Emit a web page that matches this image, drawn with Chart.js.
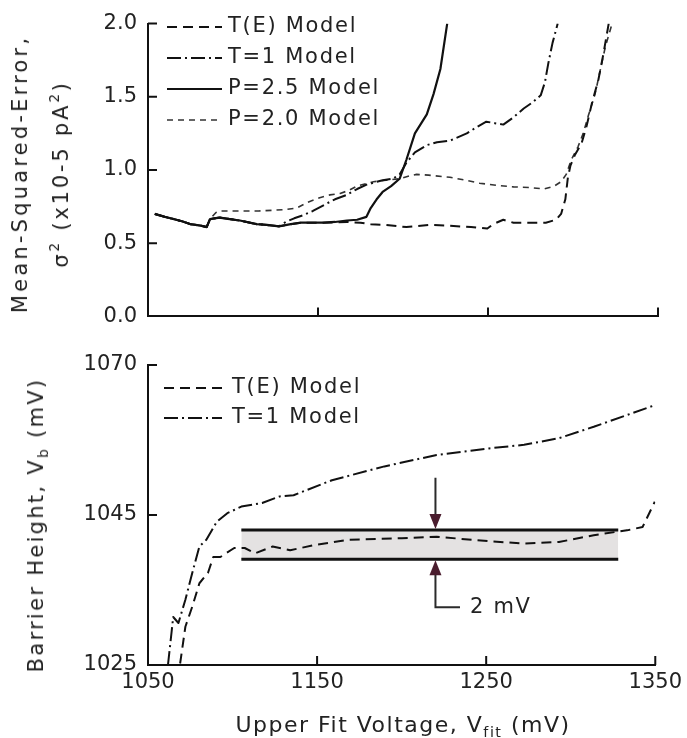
<!DOCTYPE html>
<html>
<head>
<meta charset="utf-8">
<title>Mean-squared error and barrier height vs upper fit voltage</title>
<script src="https://cdn.jsdelivr.net/npm/chart.js@4.4.0/dist/chart.umd.min.js"></script>
<style>
  html, body { margin:0; padding:0; background:#fff; }
  #wrap { position:relative; width:687px; height:738px; font-family:"DejaVu Sans", sans-serif; color:#222; }
  #wrap canvas { position:absolute; left:0; }
  #cTop { top:0; }
  #cBot { top:340px; }
  .title { position:absolute; white-space:nowrap; text-align:center; font-size:21px; }
  .rot { transform:translate(-50%,-50%) rotate(-90deg); }
  .flat { transform:translate(-50%,-50%); }
  sup { font-size:65%; vertical-align:0.65em; line-height:0; }
  sub { font-size:65%; vertical-align:-0.35em; line-height:0; }
</style>
</head>
<body>
<div id="wrap">
  <canvas id="cTop" width="687" height="340"></canvas>
  <canvas id="cBot" width="687" height="398"></canvas>
  <div class="title rot" style="left:41px; top:174px; line-height:41px;">
    <span style="letter-spacing:3.2px">Mean-Squared-Error,</span><br>
    <span style="letter-spacing:2.8px">σ<sup>2</sup> (x10-5 pA<sup>2</sup>)</span>
  </div>
  <div class="title rot" style="left:36px; top:525px; line-height:30px; letter-spacing:2.3px;">Barrier Height, V<sub>b</sub> (mV)</div>
  <div class="title flat" style="left:403px; top:725px; line-height:30px; font-size:22px; letter-spacing:1.5px;">Upper Fit Voltage, V<sub>fit</sub> (mV)</div>
</div>
<script>
const X_MIN = 1050, X_MAX = 1350;
const X_TICKS = [1050, 1150, 1250, 1350];
const MSE_TICKS = [0, 0.5, 1.0, 1.5, 2.0];
const VB_TICKS = [1025, 1045, 1070];

// top panel: sigma^2 (x10-5 pA^2) vs Vfit (mV)
// all four fits share the start
const earlyV   = [1054, 1060, 1065, 1070, 1075, 1081, 1084.5, 1086.5];
const earlyMSE = [0.70, 0.68, 0.665, 0.65, 0.63, 0.62, 0.61, 0.665];
// P=2.0 leaves first, the other three stay together a bit longer
const midV   = [1092, 1098, 1104, 1114, 1120, 1127];
const midMSE = [0.675, 0.665, 0.655, 0.63, 0.625, 0.615];

const teV   = [1134, 1140, 1153, 1167, 1175, 1181, 1190, 1202, 1215, 1227, 1240, 1249.6, 1253, 1259, 1265, 1272, 1284, 1290, 1293, 1295.5, 1297, 1298.5, 1301, 1305, 1308, 1311, 1315, 1318, 1321];
const teMSE = [0.63, 0.64, 0.64, 0.645, 0.64, 0.63, 0.625, 0.61, 0.625, 0.62, 0.61, 0.60, 0.63, 0.66, 0.64, 0.64, 0.64, 0.66, 0.70, 0.80, 0.95, 1.03, 1.10, 1.18, 1.30, 1.45, 1.62, 1.80, 2.0];

const t1V   = [1131, 1136, 1141, 1147, 1155, 1160, 1167, 1173, 1178.6, 1188, 1194, 1198, 1202, 1207, 1214, 1220, 1227.6, 1237.5, 1243, 1249, 1254, 1259, 1265, 1271, 1276, 1281, 1283.5, 1285.5, 1288, 1291];
const t1MSE = [0.645, 0.67, 0.69, 0.72, 0.77, 0.80, 0.83, 0.87, 0.90, 0.93, 0.94, 0.97, 1.05, 1.12, 1.17, 1.19, 1.20, 1.25, 1.29, 1.33, 1.32, 1.31, 1.36, 1.42, 1.46, 1.51, 1.60, 1.73, 1.87, 2.0];

const p25V   = [1134, 1140, 1153, 1160, 1167, 1173, 1178.5, 1181, 1184.5, 1188, 1193, 1198, 1202, 1207, 1214, 1218, 1222, 1226];
const p25MSE = [0.63, 0.64, 0.64, 0.645, 0.655, 0.66, 0.68, 0.74, 0.80, 0.85, 0.89, 0.94, 1.07, 1.25, 1.38, 1.52, 1.69, 2.0];

const p20V   = [1090, 1092.4, 1104, 1115, 1123.5, 1131, 1137.5, 1144, 1151, 1157, 1163, 1168, 1173, 1182.6, 1190, 1198, 1204, 1208, 1215, 1227.6, 1237, 1245, 1255, 1265, 1275, 1283, 1289, 1293, 1296, 1299, 1303, 1306, 1309, 1313, 1316, 1319, 1323];
const p20MSE = [0.71, 0.72, 0.72, 0.72, 0.725, 0.73, 0.74, 0.78, 0.81, 0.83, 0.84, 0.86, 0.89, 0.92, 0.93, 0.94, 0.96, 0.97, 0.965, 0.95, 0.93, 0.91, 0.895, 0.885, 0.88, 0.87, 0.89, 0.92, 0.97, 1.07, 1.16, 1.25, 1.37, 1.52, 1.68, 1.84, 2.0];

// bottom panel: barrier height Vb (mV)
const teVbV = [1069, 1072.1, 1076.2, 1080.4, 1085.5, 1088.6, 1092.8, 1101, 1107.2, 1113.4, 1123.7, 1134.1, 1148.5, 1169.1, 1200.1, 1220.7, 1251.7, 1272.4, 1293, 1313.6, 1334.2, 1342.5, 1349.7];
const teVb  = [1025.2, 1030.1, 1032.8, 1035.9, 1037.3, 1039.4, 1039.4, 1040.6, 1040.6, 1039.9, 1040.8, 1040.3, 1041.0, 1041.7, 1041.9, 1042.1, 1041.5, 1041.2, 1041.4, 1042.3, 1043.0, 1043.4, 1047.2];

const t1VbV = [1061.8, 1063.9, 1064.9, 1068, 1072.1, 1076.2, 1080.4, 1084.5, 1090.7, 1096.9, 1105.2, 1117.5, 1127.9, 1136.1, 1158.8, 1189.8, 1220.7, 1251.7, 1272.4, 1293, 1313.6, 1349.7];
const t1Vb  = [1025, 1029.3, 1031.4, 1030.6, 1033.7, 1037.3, 1040.8, 1041.7, 1044.1, 1045.3, 1046.4, 1047.0, 1048.1, 1048.3, 1050.8, 1053.1, 1055.0, 1056.1, 1056.7, 1057.8, 1059.7, 1063.3];

// shaded 2 mV band and its arrows
const BAND_V = [1105.2, 1328.1];
const BAND_LOW = 1039.1, BAND_HIGH = 1043.0;
const NOTE_V = 1220, NOTE_TOP = 1051.2, NOTE_BOTTOM = 1032.7, NOTE_LABEL_V = 1234.5;
const NOTE_TEXT = "2 mV";

const FONT = '"DejaVu Sans", sans-serif';
const INK = "#111";

function pts(xs, ys) { return xs.map((v, i) => ({ x: v, y: ys[i] })) }

// y axis of the lower panel: the printed ticks sit at equal spacing,
// so each interval between them gets the same height
class BrokenScale extends Chart.LinearScale {
  static id = "broken";
  static defaults = {};
  getPixelForValue(v) {
    if (v === null || v === undefined || isNaN(v)) return NaN;
    const k = VB_TICKS, n = k.length - 1;
    let i = 0;
    while (i < n - 1 && v > k[i + 1]) i++;
    const d = (i + (v - k[i]) / (k[i + 1] - k[i])) / n;
    return this.getPixelForDecimal(d);
  }
  getValueForPixel(p) {
    const k = VB_TICKS, n = k.length - 1;
    const d = this.getDecimalForPixel(p) * n;
    const i = Math.min(n - 1, Math.max(0, Math.floor(d)));
    return k[i] + (d - i) * (k[i + 1] - k[i]);
  }
}
Chart.register(BrokenScale);

const inwardTicks = {
  id: "inwardTicks",
  afterDraw(chart, args, o) {
    const { ctx, chartArea: a, scales: { x, y } } = chart;
    ctx.save();
    ctx.strokeStyle = INK;
    ctx.lineWidth = 2;
    ctx.beginPath();
    x.ticks.forEach(t => {
      if (t.value === x.min) return;
      const px = x.getPixelForValue(t.value);
      ctx.moveTo(px, a.bottom); ctx.lineTo(px, a.bottom - o.len);
    });
    y.ticks.forEach(t => {
      if (t.value === y.min) return;
      const py = y.getPixelForValue(t.value);
      ctx.moveTo(a.left, py); ctx.lineTo(a.left + o.len, py);
    });
    ctx.stroke();
    ctx.restore();
  }
};

const lineLegend = {
  id: "lineLegend",
  afterDatasetsDraw(chart, args, o) {
    const ctx = chart.ctx;
    ctx.save();
    ctx.font = `${o.size}px ${FONT}`;
    ctx.letterSpacing = o.spacing + "px";
    ctx.textBaseline = "middle";
    ctx.fillStyle = "#222";
    let row = 0;
    chart.data.datasets.forEach(ds => {
      if (!ds.label) return;
      const y = o.y + row * o.row;
      ctx.strokeStyle = ds.borderColor;
      ctx.lineWidth = ds.borderWidth;
      ctx.setLineDash(ds.borderDash || []);
      ctx.beginPath();
      ctx.moveTo(o.x, y); ctx.lineTo(o.x + o.sample, y);
      ctx.stroke();
      ctx.setLineDash([]);
      ctx.fillText(ds.label, o.x + o.sample + o.gap, y);
      row++;
    });
    ctx.restore();
  }
};

const bandNote = {
  id: "bandNote",
  afterDatasetsDraw(chart) {
    const { ctx, scales: { x, y } } = chart;
    const ax = x.getPixelForValue(NOTE_V);
    const yHi = y.getPixelForValue(BAND_HIGH), yLo = y.getPixelForValue(BAND_LOW);
    const yTop = y.getPixelForValue(NOTE_TOP), yBot = y.getPixelForValue(NOTE_BOTTOM);
    const xEnd = x.getPixelForValue(NOTE_LABEL_V);
    ctx.save();
    ctx.strokeStyle = "#2b2b2b";
    ctx.lineWidth = 2;
    ctx.beginPath();
    ctx.moveTo(ax, yTop); ctx.lineTo(ax, yHi - 12);
    ctx.moveTo(ax, yLo + 12); ctx.lineTo(ax, yBot); ctx.lineTo(xEnd, yBot);
    ctx.stroke();
    ctx.fillStyle = "#4a1d2e";
    [[yHi - 1, -1], [yLo + 1, 1]].forEach(([tip, dir]) => {
      ctx.beginPath();
      ctx.moveTo(ax, tip);
      ctx.lineTo(ax - 6, tip + dir * 15);
      ctx.lineTo(ax + 6, tip + dir * 15);
      ctx.closePath();
      ctx.fill();
    });
    ctx.fillStyle = "#222";
    ctx.font = `21px ${FONT}`;
    ctx.letterSpacing = "1.7px";
    ctx.textBaseline = "middle";
    ctx.fillText(NOTE_TEXT, xEnd + 10, yBot);
    ctx.restore();
  }
};

function xScale(showLabels, height) {
  return {
    type: "linear", min: X_MIN, max: X_MAX,
    afterBuildTicks: s => { s.ticks = X_TICKS.map(v => ({ value: v })) },
    afterFit: s => { s.height = height },
    grid: { display: false, drawTicks: false },
    border: { color: INK, width: 2 },
    ticks: { display: showLabels, padding: 5, color: "#222", font: { family: FONT, size: 21 }, maxRotation: 0, autoSkip: false, callback: v => String(v) }
  };
}

function curve(label, data, dash, width, color) {
  return { label, data, borderColor: color || INK, borderWidth: width, borderDash: dash, pointRadius: 0, fill: false, tension: 0, borderJoinStyle: "round" };
}

new Chart(document.getElementById("cTop"), {
  type: "line",
  data: {
    datasets: [
      curve("T(E) Model", pts([...earlyV, ...midV, ...teV], [...earlyMSE, ...midMSE, ...teMSE]), [10, 6], 2),
      curve("T=1 Model", pts([...earlyV, ...midV, ...t1V], [...earlyMSE, ...midMSE, ...t1MSE]), [14, 4, 2, 4], 2),
      curve("P=2.5 Model", pts([...earlyV, ...midV, ...p25V], [...earlyMSE, ...midMSE, ...p25MSE]), [], 2.2),
      curve("P=2.0 Model", pts([...earlyV, ...p20V], [...earlyMSE, ...p20MSE]), [6, 5], 1.6, "#333")
    ]
  },
  options: {
    responsive: false, animation: false,
    layout: { padding: { top: 20, right: 29, left: 0, bottom: 0 } },
    scales: {
      x: xScale(false, 18),
      y: {
        type: "linear", min: 0, max: 2,
        afterBuildTicks: s => { s.ticks = MSE_TICKS.map(v => ({ value: v })) },
        afterFit: s => { s.width = 148 },
        grid: { display: false, drawTicks: false },
        border: { color: INK, width: 2 },
        ticks: { padding: 11, color: "#222", font: { family: FONT, size: 21 }, callback: v => Number(v).toFixed(1) }
      }
    },
    plugins: {
      legend: { display: false }, tooltip: { enabled: false },
      inwardTicks: { len: 9 },
      lineLegend: { x: 167, y: 27, row: 31, sample: 55, gap: 6, size: 21, spacing: 1.7 }
    }
  },
  plugins: [inwardTicks, lineLegend]
});

new Chart(document.getElementById("cBot"), {
  type: "line",
  data: {
    datasets: [
      curve("T(E) Model", pts(teVbV, teVb), [10, 6], 2),
      curve("T=1 Model", pts(t1VbV, t1Vb), [14, 4, 2, 4], 2),
      { data: pts(BAND_V, [BAND_HIGH, BAND_HIGH]), borderColor: INK, borderWidth: 3, pointRadius: 0, fill: "+1", backgroundColor: "#e4e2e2" },
      { data: pts(BAND_V, [BAND_LOW, BAND_LOW]), borderColor: INK, borderWidth: 3, pointRadius: 0, fill: false }
    ]
  },
  options: {
    responsive: false, animation: false,
    layout: { padding: { top: 25, right: 29, left: 0, bottom: 0 } },
    scales: {
      x: xScale(true, 73),
      y: {
        type: "broken", min: VB_TICKS[0], max: VB_TICKS[VB_TICKS.length - 1],
        afterBuildTicks: s => { s.ticks = VB_TICKS.map(v => ({ value: v })) },
        afterFit: s => { s.width = 148 },
        grid: { display: false, drawTicks: false },
        border: { color: INK, width: 2 },
        ticks: { padding: 11, color: "#222", font: { family: FONT, size: 21 }, callback: v => String(v) }
      }
    },
    plugins: {
      legend: { display: false }, tooltip: { enabled: false },
      filler: { drawTime: "beforeDatasetsDraw" },
      inwardTicks: { len: 9 },
      lineLegend: { x: 164, y: 48, row: 30, sample: 58, gap: 10, size: 21, spacing: 1.7 }
    }
  },
  plugins: [inwardTicks, lineLegend, bandNote]
});
</script>
</body>
</html>
